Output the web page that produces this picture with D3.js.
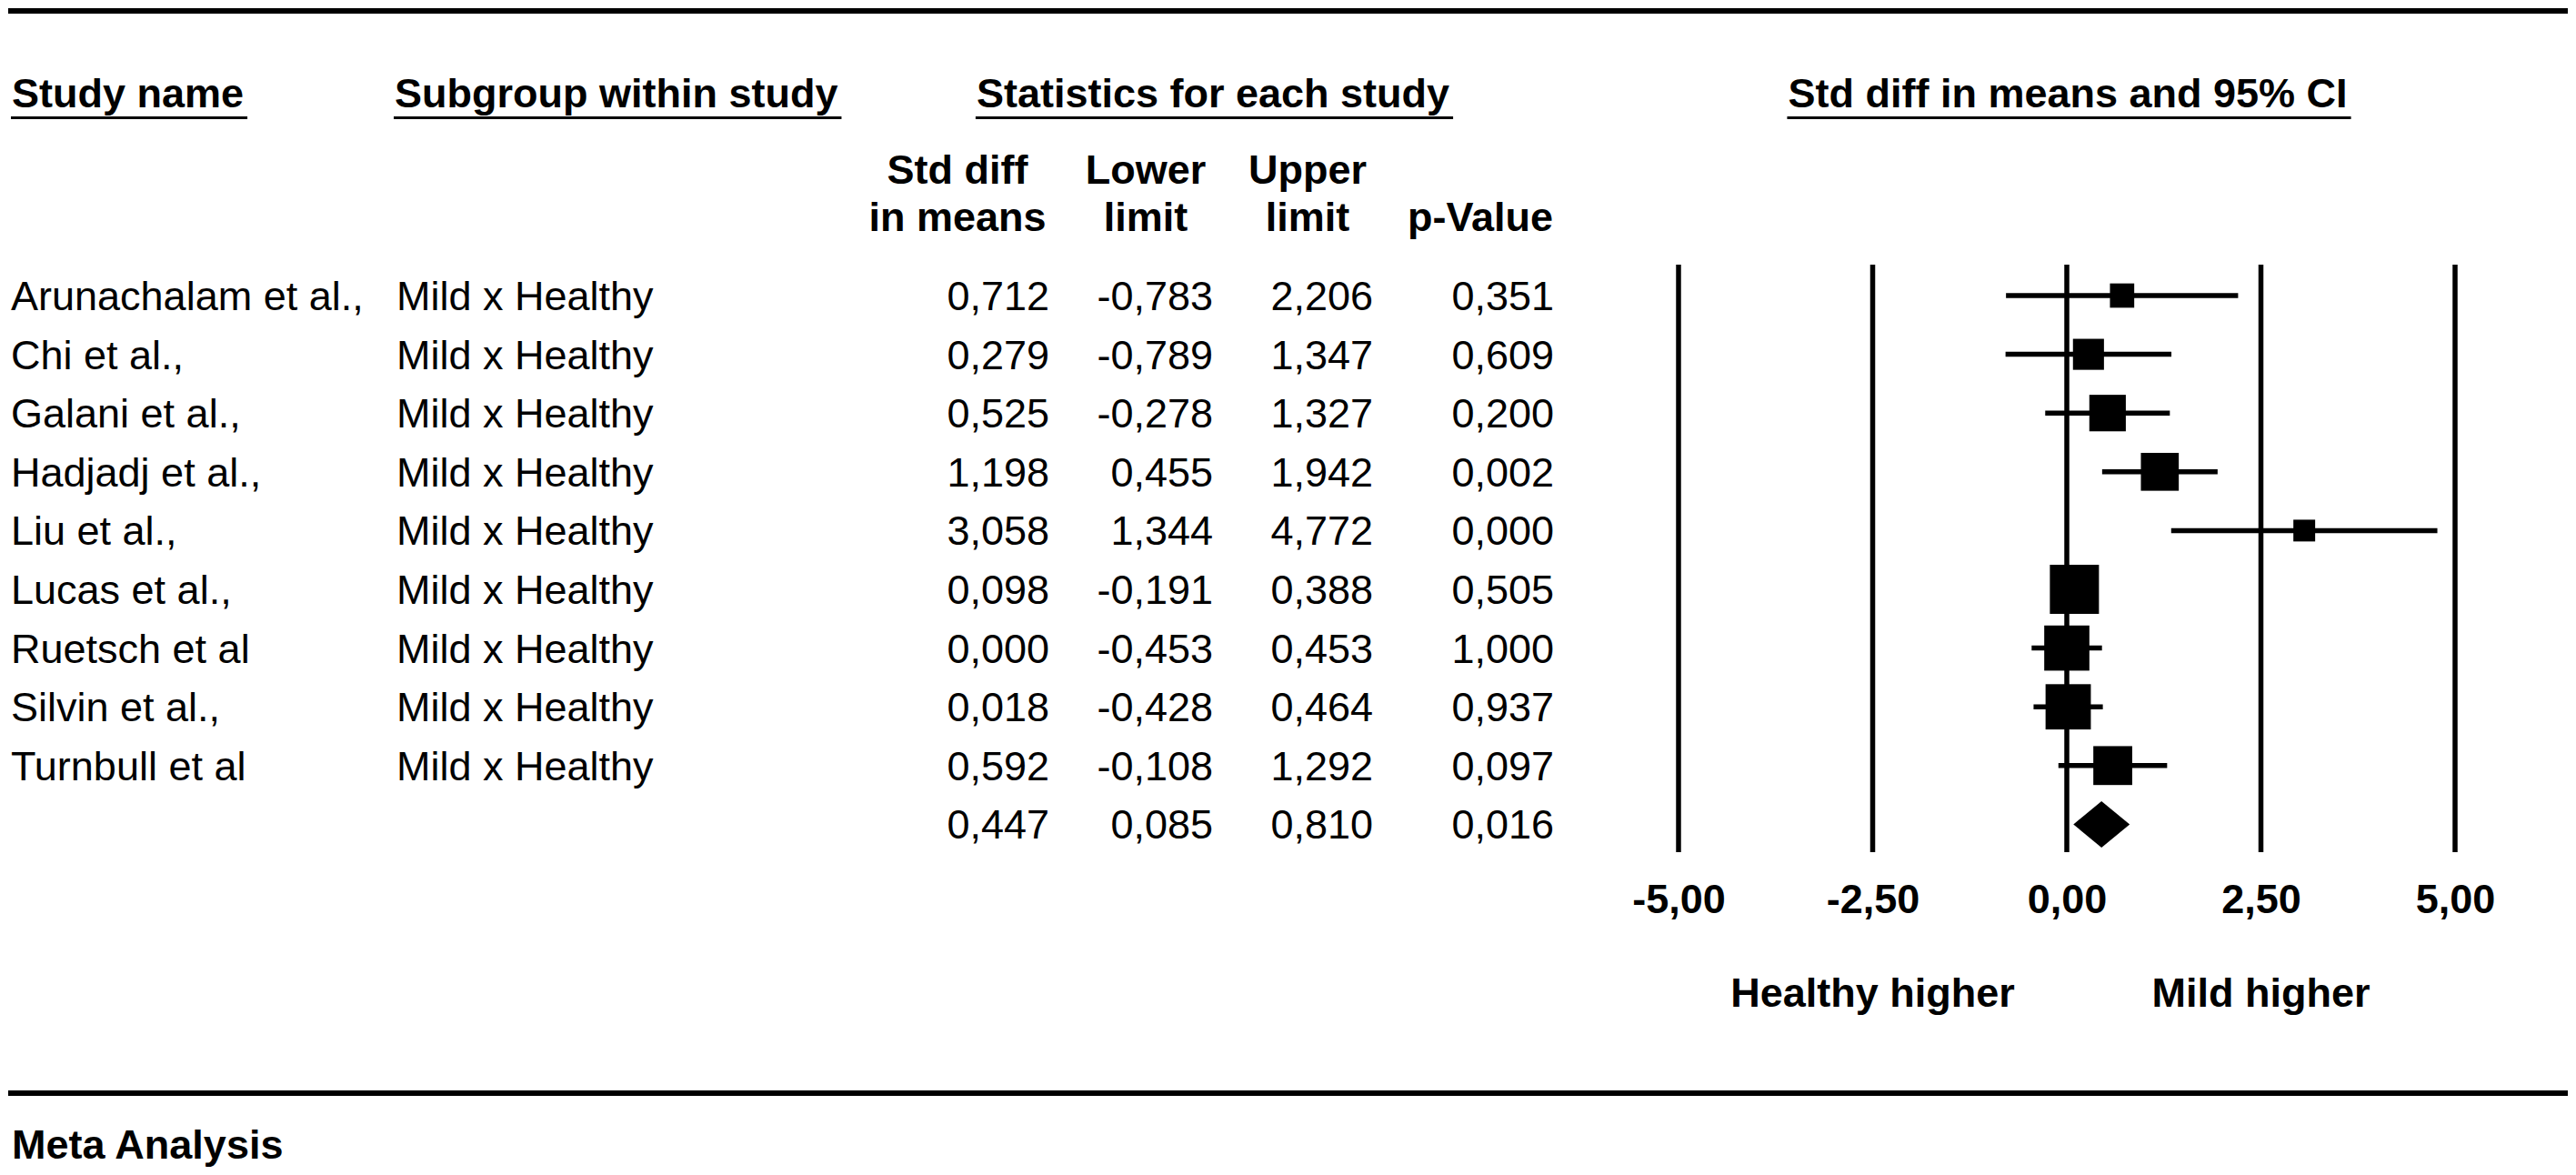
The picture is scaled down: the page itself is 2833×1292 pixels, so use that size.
<!DOCTYPE html>
<html>
<head>
<meta charset="utf-8">
<script src="https://cdn.jsdelivr.net/npm/d3@7"></script>
<style>
  html, body { margin: 0; padding: 0; background: #fff; }
  svg text { font-family: "Liberation Sans", Arial, Helvetica, sans-serif; fill: #000; }
</style>
</head>
<body>
<svg id="chart" width="2833" height="1292"></svg>
<script>
// ---------- data ----------
const studyNames = ["Arunachalam et al.,", "Chi et al.,", "Galani et al.,", "Hadjadj et al.,", "Liu et al.,",
                    "Lucas et al.,", "Ruetsch et al", "Silvin et al.,", "Turnbull et al"];
const subgroups = ["Mild x Healthy", "Mild x Healthy", "Mild x Healthy", "Mild x Healthy", "Mild x Healthy",
                   "Mild x Healthy", "Mild x Healthy", "Mild x Healthy", "Mild x Healthy"];
const stdDiff = [0.712, 0.279, 0.525, 1.198, 3.058, 0.098, 0.000, 0.018, 0.592];
const lowerLimit = [-0.783, -0.789, -0.278, 0.455, 1.344, -0.191, -0.453, -0.428, -0.108];
const upperLimit = [2.206, 1.347, 1.327, 1.942, 4.772, 0.388, 0.453, 0.464, 1.292];
const pValue = [0.351, 0.609, 0.200, 0.002, 0.000, 0.505, 1.000, 0.937, 0.097];
const relWeight = [4.6, 7.5, 10.4, 11.2, 3.7, 18.8, 15.9, 16.0, 11.8];
const summary = { est: 0.447, lo: 0.085, hi: 0.810, p: 0.016 };
const axisTicks = [-5, -2.5, 0, 2.5, 5];
const headers = ["Study name", "Subgroup within study", "Statistics for each study", "Std diff in means and 95% CI"];
const colHeaders = [["Std diff", "in means"], ["Lower", "limit"], ["Upper", "limit"], ["", "p-Value"]];
const favourLabels = ["Healthy higher", "Mild higher"];
const footerLabel = "Meta Analysis";

// ---------- setup ----------
const svg = d3.select("#chart");
const FS = 45;
const loc = d3.formatLocale({ decimal: ",", thousands: ".", grouping: [3], currency: ["", ""], minus: "-" });
const f3 = loc.format(".3f");
const f2 = loc.format(".2f");

const rowIdx = d3.range(studyNames.length + 1);
const y = d3.scalePoint().domain(rowIdx).range([325, 906.4]);
const x = d3.scaleLinear().domain([-5, 5]).range([1846, 2700]);
const boxSide = d3.scaleSqrt().domain([0, 100]).range([0, 124.5]);

// rules
svg.append("line").attr("x1", 9).attr("x2", 2824).attr("y1", 12).attr("y2", 12)
  .attr("stroke", "#000").attr("stroke-width", 6);
svg.append("line").attr("x1", 9).attr("x2", 2824).attr("y1", 1202).attr("y2", 1202)
  .attr("stroke", "#000").attr("stroke-width", 6);

// headers with underline
const headerSpec = [
  { t: headers[0], x: 13, anchor: "start" },
  { t: headers[1], x: 434, anchor: "start" },
  { t: headers[2], x: 1334, anchor: "middle" },
  { t: headers[3], x: 2274, anchor: "middle" }
];
headerSpec.forEach(h => {
  const t = svg.append("text").attr("x", h.x).attr("y", 118).attr("text-anchor", h.anchor)
    .attr("font-size", FS).attr("font-weight", "bold").text(h.t);
  const bb = t.node().getBBox();
  svg.append("line").attr("x1", bb.x - 1).attr("x2", bb.x + bb.width + 4)
    .attr("y1", 129.5).attr("y2", 129.5).attr("stroke", "#000").attr("stroke-width", 3);
});

// column headers
const colRight = [1154, 1334, 1510, 1709];
const colHeadCenter = [1053, 1260, 1438, 1628];
colHeaders.forEach((lines, i) => {
  lines.forEach((ln, j) => {
    if (!ln) return;
    svg.append("text").attr("x", colHeadCenter[i]).attr("y", j === 0 ? 202 : 254)
      .attr("text-anchor", "middle").attr("font-size", FS).attr("font-weight", "bold").text(ln);
  });
});

// study rows text
const rows = studyNames.map((n, i) => ({ i, name: n, sub: subgroups[i], est: stdDiff[i], lo: lowerLimit[i], hi: upperLimit[i], p: pValue[i], w: relWeight[i] }));
const tg = svg.append("g").attr("font-size", FS);
rows.forEach(r => {
  const by = y(r.i) + 16;
  tg.append("text").attr("x", 12).attr("y", by).text(r.name);
  tg.append("text").attr("x", 436).attr("y", by).text(r.sub);
  [r.est, r.lo, r.hi, r.p].forEach((v, k) => {
    tg.append("text").attr("x", colRight[k]).attr("y", by).attr("text-anchor", "end").text(f3(v));
  });
});
const sy = y(studyNames.length);
[summary.est, summary.lo, summary.hi, summary.p].forEach((v, k) => {
  tg.append("text").attr("x", colRight[k]).attr("y", sy + 16).attr("text-anchor", "end").text(f3(v));
});

// gridlines at ticks
const plotTop = 291, plotBottom = 937;
svg.append("g").selectAll("line").data(axisTicks).join("line")
  .attr("x1", d => x(d)).attr("x2", d => x(d))
  .attr("y1", plotTop).attr("y2", plotBottom)
  .attr("stroke", "#000").attr("stroke-width", 5.5);

// axis labels
const axisG = svg.append("g").attr("transform", `translate(0,${plotBottom})`)
  .call(d3.axisBottom(x).tickValues(axisTicks).tickFormat(f2).tickSize(0).tickPadding(0));
axisG.select(".domain").remove();
axisG.selectAll("text").attr("font-family", null).attr("font-size", FS).attr("font-weight", "bold")
  .attr("fill", "#000").attr("y", 1004 - plotBottom).attr("dy", 0);
axisG.attr("font-family", null).attr("font-size", null);

// CIs & boxes
const mg = svg.append("g");
mg.selectAll("line.ci").data(rows).join("line").attr("class", "ci")
  .attr("x1", d => x(d.lo)).attr("x2", d => x(d.hi))
  .attr("y1", d => y(d.i)).attr("y2", d => y(d.i))
  .attr("stroke", "#000").attr("stroke-width", 5.5);
mg.selectAll("rect.box").data(rows).join("rect").attr("class", "box")
  .attr("x", d => x(d.est) - boxSide(d.w) / 2)
  .attr("y", d => y(d.i) - boxSide(d.w) / 2)
  .attr("width", d => boxSide(d.w)).attr("height", d => boxSide(d.w))
  .attr("fill", "#000");

// summary diamond
const dh = 25.5;
mg.append("path")
  .attr("d", `M${x(summary.lo)},${sy} L${x(summary.est)},${sy - dh} L${x(summary.hi)},${sy} L${x(summary.est)},${sy + dh} Z`)
  .attr("fill", "#000");

// favour labels
svg.append("text").attr("x", x(-2.5)).attr("y", 1107).attr("text-anchor", "middle")
  .attr("font-size", FS).attr("font-weight", "bold").text(favourLabels[0]);
svg.append("text").attr("x", x(2.5)).attr("y", 1107).attr("text-anchor", "middle")
  .attr("font-size", FS).attr("font-weight", "bold").text(favourLabels[1]);

// footer
svg.append("text").attr("x", 13).attr("y", 1274).attr("font-size", FS).attr("font-weight", "bold").text(footerLabel);
</script>
</body>
</html>
